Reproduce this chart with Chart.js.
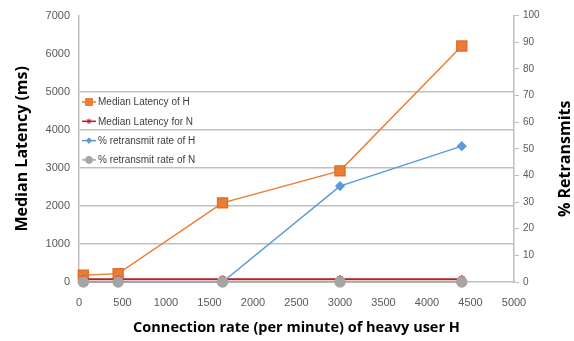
<!DOCTYPE html>
<html>
<head>
<meta charset="utf-8">
<script src="https://cdn.jsdelivr.net/npm/chart.js@4.4.0/dist/chart.umd.min.js"></script>
<style>
  html, body { margin: 0; padding: 0; background: #fff; }
  #wrap { width: 574px; height: 341px; }
</style>
</head>
<body>
<div id="wrap"><canvas id="myChart"></canvas></div>
<script>
// connection rate of heavy user H (per minute)
var rates = [50, 450, 1650, 3000, 4400];
// median latency, ms
var latencyH = [180, 220, 2080, 2920, 6200];
var latencyN = [70, 70, 70, 70, 70];
// retransmit rate, %
var retransH = [0, 0, 0, 36, 51];
var retransN = [0, 0, 0, 0, 0];

var seriesNames = [
    "Median Latency of H",
    "Median Latency for N",
    "% retransmit rate of H",
    "% retransmit rate of N",
];
var rightTitle = "% Retransmits";

function pts(ys) {
    return rates.map(function (x, i) { return { x: x, y: ys[i] }; });
}

function plain(v) { return String(v); }

var tickFont = { family: "'Liberation Sans'", size: 11 };
var titleFont = { family: "'Open Sans'", size: 16, weight: "bold" };

// excel-style legend: short line with the marker in the middle,
// plus the right axis title drawn bottom-to-top
var lineLegend = {
    id: "lineLegend",
    afterDraw: function (chart) {
        var ctx = chart.ctx;
        var left = chart.chartArea.left + 3;
        var top = 102;
        ctx.save();
        ctx.font = "10px 'Liberation Sans'";
        ctx.textBaseline = "middle";
        chart.data.datasets.forEach(function (ds, i) {
            var y = top + i * 19.3;
            ctx.strokeStyle = ds.borderColor;
            ctx.fillStyle = ds.backgroundColor;
            ctx.lineWidth = 1.5;
            ctx.beginPath();
            ctx.moveTo(left, y);
            ctx.lineTo(left + 14, y);
            ctx.stroke();
            ctx.lineWidth = 1;
            Chart.helpers.drawPoint(ctx, {
                pointStyle: ds.pointStyle,
                radius: ds.pointRadius * 0.7,
                borderWidth: 1,
            }, left + 7, y);
            ctx.fillStyle = "#404040";
            ctx.fillText(ds.label, left + 16, y + 0.5);
        });

        var r = chart.scales.y1;
        ctx.translate(r.right - 9, (chart.chartArea.top + chart.chartArea.bottom) / 2 + 10);
        ctx.rotate(-Math.PI / 2);
        ctx.font = "bold 16px 'Open Sans'";
        ctx.textAlign = "center";
        ctx.fillStyle = "#000";
        ctx.fillText(rightTitle, 0, 0);
        ctx.restore();
    },
};

var ctx = document.getElementById("myChart").getContext("2d");
var myChart = new Chart(ctx, {
    type: "line",
    data: {
        datasets: [
            {
                label: seriesNames[0],
                data: pts(latencyH),
                yAxisID: "y",
                borderColor: "#ED7D31",
                backgroundColor: "#ED7D31",
                pointBorderColor: "#d9712b",
                borderWidth: 1.5,
                pointStyle: "rect",
                pointRadius: 7,
                order: 4,
            },
            {
                label: seriesNames[1],
                data: pts(latencyN),
                yAxisID: "y",
                borderColor: "#B22222",
                backgroundColor: "#B22222",
                pointBorderColor: "#d04040",
                borderWidth: 2,
                pointStyle: "star",
                pointRadius: 4,
                order: 3,
            },
            {
                label: seriesNames[2],
                data: pts(retransH),
                yAxisID: "y1",
                borderColor: "#5B9BD5",
                backgroundColor: "#5B9BD5",
                borderWidth: 1.5,
                pointStyle: "rectRot",
                pointRadius: 4,
                order: 2,
            },
            {
                label: seriesNames[3],
                data: pts(retransN),
                yAxisID: "y1",
                borderColor: "#A5A5A5",
                backgroundColor: "#A5A5A5",
                borderWidth: 1.5,
                pointStyle: "circle",
                pointRadius: 5,
                order: 1,
            },
        ],
    },
    options: {
        responsive: true,
        maintainAspectRatio: false,
        animation: false,
        clip: false,
        layout: { padding: { top: 13, right: 0, left: 0, bottom: 0 } },
        plugins: {
            legend: { display: false },
            tooltip: { enabled: false },
        },
        scales: {
            x: {
                type: "linear",
                min: 0,
                max: 5000,
                afterFit: function (s) { s.height = 59; },
                ticks: {
                    stepSize: 500,
                    color: "#595959",
                    font: tickFont,
                    maxRotation: 0,
                    padding: 6,
                    callback: plain,
                },
                grid: { display: false },
                border: { color: "#BFBFBF", width: 1.5 },
                title: {
                    display: true,
                    text: "Connection rate (per minute) of heavy user H",
                    color: "#000",
                    font: { family: "'Open Sans'", size: 14.5, weight: "bold" },
                    padding: { top: 10 },
                },
            },
            y: {
                position: "left",
                min: 0,
                max: 7000,
                afterFit: function (s) { s.width = 79; },
                ticks: {
                    stepSize: 1000,
                    color: "#595959",
                    font: tickFont,
                    padding: 9,
                    callback: plain,
                },
                grid: {
                    drawTicks: false,
                    lineWidth: 1.5,
                    color: function (c) {
                        var v = c.tick ? c.tick.value : 0;
                        return v > 0 && v <= 5000 ? "#BFBFBF" : "rgba(0,0,0,0)";
                    },
                },
                border: { color: "#BFBFBF", width: 1.5 },
                title: {
                    display: true,
                    text: "Median Latency (ms)",
                    color: "#000",
                    font: titleFont,
                    padding: { top: 13, bottom: 0 },
                },
            },
            y1: {
                position: "right",
                min: 0,
                max: 100,
                afterFit: function (s) { s.width = 60; },
                ticks: {
                    stepSize: 10,
                    color: "#595959",
                    font: { family: "'Liberation Sans'", size: 10 },
                    padding: 4,
                },
                grid: {
                    drawOnChartArea: false,
                    tickLength: 5,
                    color: "#BFBFBF",
                },
                border: { color: "#BFBFBF", width: 1.5 },
                title: { display: false },
            },
        },
    },
    plugins: [lineLegend],
});
</script>
</body>
</html>
